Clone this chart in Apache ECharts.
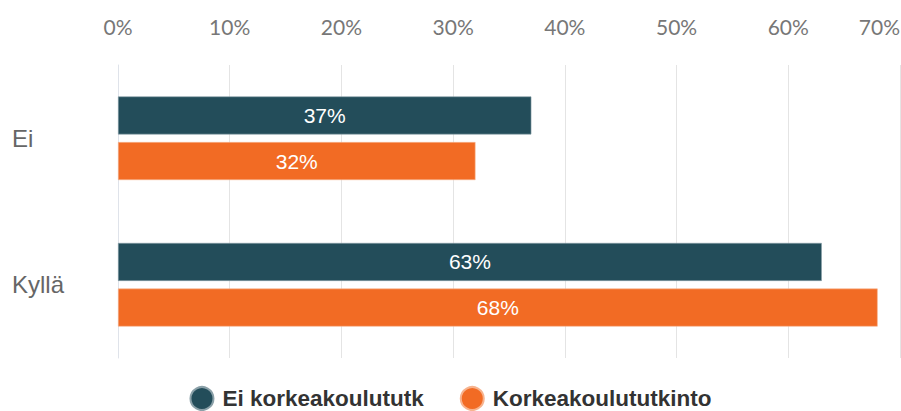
<!DOCTYPE html>
<html>
<head>
<meta charset="utf-8">
<script src="https://cdn.jsdelivr.net/npm/echarts@6/dist/echarts.min.js"></script>
<style>
  html, body { margin: 0; padding: 0; background: #fff; }
  #chart { width: 901px; height: 411px; }
</style>
</head>
<body>
<div id="chart"></div>
<script>
var categories = ['Ei', 'Kyllä'];
var seriesNames = ['Ei korkeakoulututkinto', 'Korkeakoulututkinto'];
var noDegree = [37, 63];
var degree = [32, 68];
var tickMax = 70;

var dark = '#234d5a';
var orange = '#f26b24';

var chart = echarts.init(document.getElementById('chart'), null, { renderer: 'svg' });
chart.setOption({
  animation: false,
  grid: { left: 118, right: 1, top: 65, bottom: 53, containLabel: false, outerBoundsMode: 'none' },
  legend: {
    bottom: 0,
    left: 'center',
    padding: 0,
    icon: 'circle',
    itemWidth: 23,
    itemHeight: 23,
    itemGap: 36,
    textStyle: { fontFamily: 'Liberation Sans, Arial', fontWeight: 'bold', fontSize: 22.5, color: '#333', padding: [0, 0, 0, 4] },
    data: [
      { name: seriesNames[0], textStyle: { width: 206, overflow: 'truncate', ellipsis: '' } },
      { name: seriesNames[1] }
    ]
  },
  xAxis: {
    type: 'value',
    position: 'top',
    min: 0,
    max: tickMax,
    interval: 10,
    axisLine: { show: false },
    axisTick: { show: false },
    axisLabel: {
      margin: 28,
      color: '#777',
      fontFamily: 'Lato',
      fontSize: 21,
      alignMaxLabel: 'right',
      formatter: '{value}%'
    },
    splitLine: { lineStyle: { color: '#e4e4e4', width: 1 } }
  },
  yAxis: {
    type: 'category',
    inverse: true,
    data: categories,
    axisLine: { show: true, lineStyle: { color: '#dfe3ea' } },
    axisTick: { show: false },
    axisLabel: {
      align: 'left',
      margin: 106,
      color: '#666',
      fontFamily: 'Liberation Sans, Arial',
      fontSize: 24
    }
  },
  series: [
    {
      name: seriesNames[0],
      type: 'bar',
      data: noDegree,
      barWidth: 38,
      barGap: '20%',
      itemStyle: { color: dark, borderColor: '#8aa0a8', borderWidth: 0.6 },
      label: {
        show: true,
        position: 'inside',
        color: '#fff',
        fontFamily: 'Liberation Sans, Arial',
        fontSize: 21,
        formatter: '{c}%'
      }
    },
    {
      name: seriesNames[1],
      type: 'bar',
      data: degree,
      barWidth: 38,
      itemStyle: { color: orange, borderColor: '#f7b38e', borderWidth: 0.6 },
      label: {
        show: true,
        position: 'inside',
        color: '#fff',
        fontFamily: 'Liberation Sans, Arial',
        fontSize: 21,
        formatter: '{c}%'
      }
    }
  ]
});
window.addEventListener('resize', function() { chart.resize(); });
</script>
</body>
</html>
